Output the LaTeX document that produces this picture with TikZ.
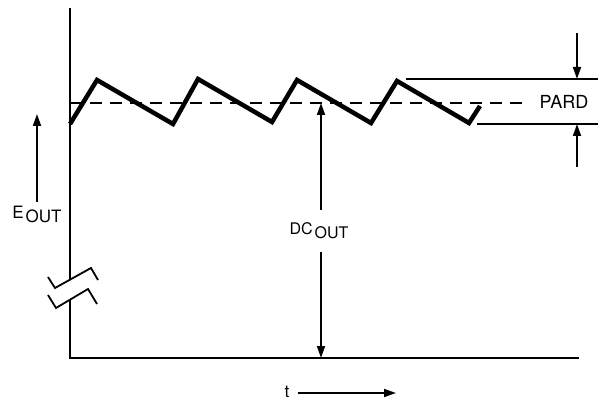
\documentclass[tikz,border=0pt]{standalone}
\usepackage{fontspec}
\setmainfont{TeX Gyre Heros}
\usetikzlibrary{arrows.meta,positioning}
\newcommand{\sublow}[1]{\kern2pt\lower4pt\hbox{#1}}

\begin{document}
\begin{tikzpicture}[x=1pt, y=-1pt,
    axis/.style={line width=2.2pt},
    wave/.style={line width=4.5pt, line join=miter},
    mean/.style={line width=1.4pt, dash pattern=on 12pt off 8pt},
    bound/.style={line width=1.3pt},
    brk/.style={line width=1.8pt},
    arrow/.style={-{Triangle[length=12pt,width=8pt]}, line width=1.7pt},
    txt/.style={inner sep=0pt, font=\fontsize{17pt}{17pt}\selectfont}
]
    \useasboundingbox (0,0) rectangle (598,401);

    % Axes
    \coordinate (ytop) at (70,8);
    \coordinate (brkhi) at (70,279);
    \coordinate (brklo) at (70,299);
    \coordinate (origin) at (70,358);
    \coordinate (xend) at (579,358);
    \draw[axis] (ytop) -- (brkhi);
    \draw[axis] (brklo) -- (origin) -- (xend);

    % Axis break
    \draw[brk] (48,277) -- (55,288) -- (91,268) -- (98,280);
    \draw[brk] (48,295) -- (56,308) -- (88,289) -- (97,304);

    % DC level
    \coordinate (dcstart) at (70,103);
    \coordinate (dcend) at (527,103);
    \draw[mean] (dcstart) -- (dcend);

    % Ripple
    \draw[wave] (70,124) -- (97,80) -- (173,124) -- (198,79) -- (272,122)
        -- (297,80) -- (371,123) -- (397,81) -- (469,123) -- (480,106);

    % PARD band
    \coordinate (hiL) at (406,79);
    \coordinate (hiR) at (598,79);
    \coordinate (loL) at (477,124);
    \coordinate (loR) at (598,124);
    \draw[bound] (hiL) -- (hiR);
    \draw[bound] (loL) -- (loR);
    \node[txt, font=\fontsize{18pt}{18pt}\selectfont] (pard) at (564,102) {PARD};
    \coordinate (pardtop) at (577,33);
    \coordinate (pardbot) at (577,167);
    \draw[arrow] (pardtop) -- (577,79);
    \draw[arrow] (pardbot) -- (577,124);

    % Labels
    \node[txt, minimum height=25pt] (eout) at (37,214.5) {E\sublow{OUT}};
    \coordinate (etip) at (37,114);
    \draw[arrow] (eout.north) -- (etip);

    \node[txt, font=\fontsize{16pt}{16pt}\selectfont, minimum height=42pt] (dcout) at (319,231)
        {DC\sublow{OUT}};
    \coordinate (dctop) at (321,103);
    \coordinate (dcbot) at (321,358);
    \draw[arrow] (dcout.north -| dctop) -- (dctop);
    \draw[arrow] (dcout.south -| dcbot) -- (dcbot);

    \node[txt] (t) at (287,391.5) {t};
    \coordinate (tend) at (396,393);
    \draw[arrow] ([xshift=8pt]t.east |- tend) -- (tend);
\end{tikzpicture}
\end{document}
